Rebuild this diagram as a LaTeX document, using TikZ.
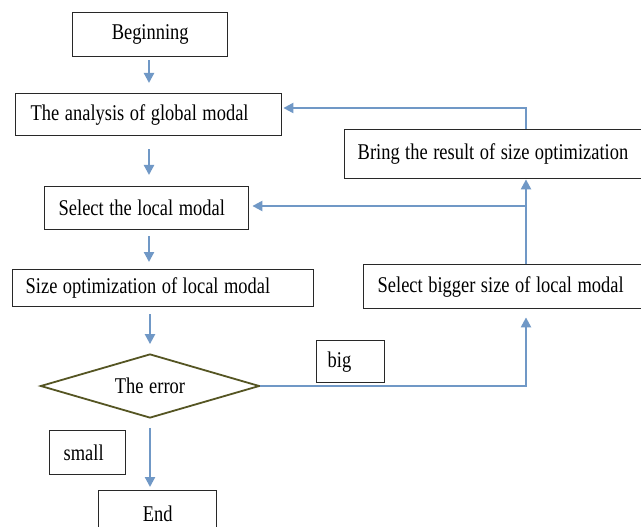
\documentclass[tikz,border=0pt]{standalone}
\usepackage{fontspec}
\setmainfont{Liberation Serif}[FakeStretch=0.82,WordSpace=1.2]
\usetikzlibrary{arrows.meta,shapes.geometric}
\definecolor{arrblue}{RGB}{112,152,198}
\definecolor{boxline}{RGB}{40,40,40}
\definecolor{olive}{RGB}{85,85,35}
\newcommand{\lft}[2]{\makebox[#1][l]{#2}}
\tikzset{
  box/.style={draw=boxline, line width=1.4pt, rectangle, anchor=north west, inner ysep=0pt, font=\fontsize{22.5}{26}\selectfont},
  cbox/.style={box, inner xsep=0pt},
  arr/.style={draw=arrblue, line width=2.2pt, -{Triangle[width=10pt,length=10pt]}},
  decision/.style={diamond, draw=olive, line width=1.8pt, minimum width=219pt, minimum height=64pt, aspect=3.4, inner sep=0pt, font=\fontsize{22.5}{26}\selectfont}
}
\begin{document}
\begin{tikzpicture}[x=1pt,y=-1pt]
\useasboundingbox (0,0) rectangle (641,527);
\fill[white] (0,0) rectangle (641,527);

\node[cbox, minimum width=155pt, minimum height=44pt] (begin) at (72,12) {Beginning};
\node[box, inner xsep=15pt, minimum height=42pt] (analysis) at (15,93) {\lft{236pt}{The analysis of global modal}};
\node[box, inner xsep=14pt, minimum height=43pt] (select) at (44,186) {\lft{176pt}{Select the local modal}};
\node[box, inner xsep=13pt, minimum height=37pt] (size) at (12,269) {\lft{275pt}{Size optimization of local modal}};
\node[box, inner xsep=13pt, minimum height=49pt] (bring) at (344,129) {\lft{284pt}{Bring the result of size optimization}};
\node[box, inner xsep=14pt, minimum height=44pt] (bigger) at (363,264) {\lft{272pt}{Select bigger size of local modal}};
\node[decision] (err) at (150,386) {The error};
\node[box, inner xsep=11pt, minimum height=42pt] (big) at (316,340) {\lft{46pt}{big}};
\node[box, inner xsep=14pt, minimum height=44pt] (small) at (49,430) {\lft{48pt}{small}};
\node[cbox, minimum width=118pt, minimum height=46pt] (end) at (98,490) {End};

\coordinate (ax) at (149,0);
\coordinate (rx) at (526,0);
\coordinate (jtop) at (526,108);
\coordinate (jmid) at (526,206);

\draw[arr, shorten <=3pt, shorten >=10pt] (begin.south -| ax) -- (analysis.north -| ax);
\draw[arr, shorten <=13pt, shorten >=11pt] (analysis.south -| ax) -- (select.north -| ax);
\draw[arr, shorten <=6pt, shorten >=7pt] (select.south -| ax) -- (size.north -| ax);
\draw[arr, shorten <=7pt, shorten >=9pt] (size.south -| err.north) -- (err.north);
\draw[arr, shorten <=9pt, shorten >=3pt] (err.south) -- (end.north -| err.south);

\draw[arr, shorten >=8pt] (err.east) -- (err.east -| rx) -- (bigger.south -| rx);
\draw[arr] (bigger.north -| rx) -- (bring.south -| rx);
\draw[arr, shorten >=3pt] (jmid) -- (jmid -| select.east);
\draw[arr, shorten >=1pt] (bring.north -| rx) -- (jtop) -- (jtop -| analysis.east);
\end{tikzpicture}
\end{document}
